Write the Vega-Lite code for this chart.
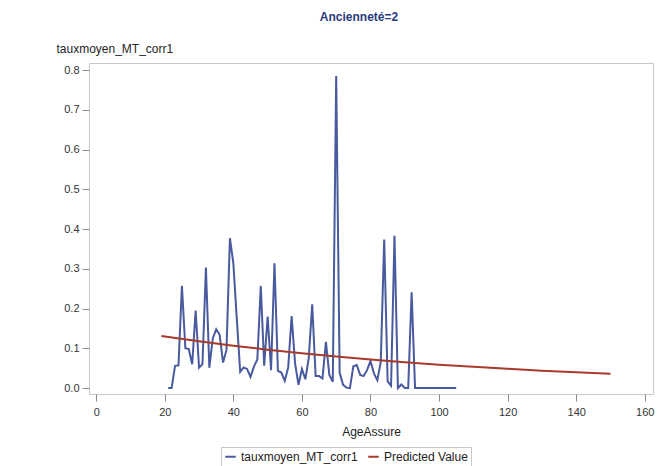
{
  "$schema": "https://vega.github.io/schema/vega-lite/v6.json",
  "width": 564,
  "height": 331,
  "autosize": {"type": "none"},
  "padding": {"left": 89, "top": 63, "right": 12, "bottom": 72},
  "background": "white",
  "config": {
    "font": "Liberation Sans",
    "view": {"stroke": "#c8c8c8", "strokeWidth": 1}
  },
  "title": {
    "text": "Ancienneté=2",
    "fontSize": 12,
    "fontWeight": "bold",
    "color": "#2b3a7e",
    "anchor": "middle",
    "dx": -12,
    "offset": 18
  },
  "data": {
    "values": [
      {"age": 21, "value": 0.0, "series": "tauxmoyen_MT_corr1"},
      {"age": 22, "value": 0.0, "series": "tauxmoyen_MT_corr1"},
      {"age": 23, "value": 0.056, "series": "tauxmoyen_MT_corr1"},
      {"age": 24, "value": 0.057, "series": "tauxmoyen_MT_corr1"},
      {"age": 25, "value": 0.257, "series": "tauxmoyen_MT_corr1"},
      {"age": 26, "value": 0.1, "series": "tauxmoyen_MT_corr1"},
      {"age": 27, "value": 0.098, "series": "tauxmoyen_MT_corr1"},
      {"age": 28, "value": 0.06, "series": "tauxmoyen_MT_corr1"},
      {"age": 29, "value": 0.195, "series": "tauxmoyen_MT_corr1"},
      {"age": 30, "value": 0.051, "series": "tauxmoyen_MT_corr1"},
      {"age": 31, "value": 0.06, "series": "tauxmoyen_MT_corr1"},
      {"age": 32, "value": 0.303, "series": "tauxmoyen_MT_corr1"},
      {"age": 33, "value": 0.051, "series": "tauxmoyen_MT_corr1"},
      {"age": 34, "value": 0.125, "series": "tauxmoyen_MT_corr1"},
      {"age": 35, "value": 0.148, "series": "tauxmoyen_MT_corr1"},
      {"age": 36, "value": 0.134, "series": "tauxmoyen_MT_corr1"},
      {"age": 37, "value": 0.064, "series": "tauxmoyen_MT_corr1"},
      {"age": 38, "value": 0.096, "series": "tauxmoyen_MT_corr1"},
      {"age": 39, "value": 0.377, "series": "tauxmoyen_MT_corr1"},
      {"age": 40, "value": 0.314, "series": "tauxmoyen_MT_corr1"},
      {"age": 41, "value": 0.175, "series": "tauxmoyen_MT_corr1"},
      {"age": 42, "value": 0.041, "series": "tauxmoyen_MT_corr1"},
      {"age": 43, "value": 0.052, "series": "tauxmoyen_MT_corr1"},
      {"age": 44, "value": 0.048, "series": "tauxmoyen_MT_corr1"},
      {"age": 45, "value": 0.028, "series": "tauxmoyen_MT_corr1"},
      {"age": 46, "value": 0.054, "series": "tauxmoyen_MT_corr1"},
      {"age": 47, "value": 0.072, "series": "tauxmoyen_MT_corr1"},
      {"age": 48, "value": 0.257, "series": "tauxmoyen_MT_corr1"},
      {"age": 49, "value": 0.056, "series": "tauxmoyen_MT_corr1"},
      {"age": 50, "value": 0.18, "series": "tauxmoyen_MT_corr1"},
      {"age": 51, "value": 0.045, "series": "tauxmoyen_MT_corr1"},
      {"age": 52, "value": 0.314, "series": "tauxmoyen_MT_corr1"},
      {"age": 53, "value": 0.043, "series": "tauxmoyen_MT_corr1"},
      {"age": 54, "value": 0.039, "series": "tauxmoyen_MT_corr1"},
      {"age": 55, "value": 0.018, "series": "tauxmoyen_MT_corr1"},
      {"age": 56, "value": 0.052, "series": "tauxmoyen_MT_corr1"},
      {"age": 57, "value": 0.181, "series": "tauxmoyen_MT_corr1"},
      {"age": 58, "value": 0.062, "series": "tauxmoyen_MT_corr1"},
      {"age": 59, "value": 0.008, "series": "tauxmoyen_MT_corr1"},
      {"age": 60, "value": 0.048, "series": "tauxmoyen_MT_corr1"},
      {"age": 61, "value": 0.022, "series": "tauxmoyen_MT_corr1"},
      {"age": 62, "value": 0.076, "series": "tauxmoyen_MT_corr1"},
      {"age": 63, "value": 0.211, "series": "tauxmoyen_MT_corr1"},
      {"age": 64, "value": 0.03, "series": "tauxmoyen_MT_corr1"},
      {"age": 65, "value": 0.03, "series": "tauxmoyen_MT_corr1"},
      {"age": 66, "value": 0.024, "series": "tauxmoyen_MT_corr1"},
      {"age": 67, "value": 0.116, "series": "tauxmoyen_MT_corr1"},
      {"age": 68, "value": 0.033, "series": "tauxmoyen_MT_corr1"},
      {"age": 69, "value": 0.016, "series": "tauxmoyen_MT_corr1"},
      {"age": 70, "value": 0.785, "series": "tauxmoyen_MT_corr1"},
      {"age": 71, "value": 0.039, "series": "tauxmoyen_MT_corr1"},
      {"age": 72, "value": 0.008, "series": "tauxmoyen_MT_corr1"},
      {"age": 73, "value": 0.001, "series": "tauxmoyen_MT_corr1"},
      {"age": 74, "value": 0.0, "series": "tauxmoyen_MT_corr1"},
      {"age": 75, "value": 0.055, "series": "tauxmoyen_MT_corr1"},
      {"age": 76, "value": 0.058, "series": "tauxmoyen_MT_corr1"},
      {"age": 77, "value": 0.033, "series": "tauxmoyen_MT_corr1"},
      {"age": 78, "value": 0.03, "series": "tauxmoyen_MT_corr1"},
      {"age": 79, "value": 0.045, "series": "tauxmoyen_MT_corr1"},
      {"age": 80, "value": 0.068, "series": "tauxmoyen_MT_corr1"},
      {"age": 81, "value": 0.037, "series": "tauxmoyen_MT_corr1"},
      {"age": 82, "value": 0.02, "series": "tauxmoyen_MT_corr1"},
      {"age": 83, "value": 0.066, "series": "tauxmoyen_MT_corr1"},
      {"age": 84, "value": 0.374, "series": "tauxmoyen_MT_corr1"},
      {"age": 85, "value": 0.017, "series": "tauxmoyen_MT_corr1"},
      {"age": 86, "value": 0.006, "series": "tauxmoyen_MT_corr1"},
      {"age": 87, "value": 0.383, "series": "tauxmoyen_MT_corr1"},
      {"age": 88, "value": 0.0, "series": "tauxmoyen_MT_corr1"},
      {"age": 89, "value": 0.009, "series": "tauxmoyen_MT_corr1"},
      {"age": 90, "value": 0.0, "series": "tauxmoyen_MT_corr1"},
      {"age": 91, "value": 0.0, "series": "tauxmoyen_MT_corr1"},
      {"age": 92, "value": 0.241, "series": "tauxmoyen_MT_corr1"},
      {"age": 93, "value": 0.0, "series": "tauxmoyen_MT_corr1"},
      {"age": 94, "value": 0.0, "series": "tauxmoyen_MT_corr1"},
      {"age": 95, "value": 0.0, "series": "tauxmoyen_MT_corr1"},
      {"age": 96, "value": 0.0, "series": "tauxmoyen_MT_corr1"},
      {"age": 97, "value": 0.0, "series": "tauxmoyen_MT_corr1"},
      {"age": 98, "value": 0.0, "series": "tauxmoyen_MT_corr1"},
      {"age": 99, "value": 0.0, "series": "tauxmoyen_MT_corr1"},
      {"age": 100, "value": 0.0, "series": "tauxmoyen_MT_corr1"},
      {"age": 101, "value": 0.0, "series": "tauxmoyen_MT_corr1"},
      {"age": 102, "value": 0.0, "series": "tauxmoyen_MT_corr1"},
      {"age": 103, "value": 0.0, "series": "tauxmoyen_MT_corr1"},
      {"age": 104, "value": 0.0, "series": "tauxmoyen_MT_corr1"},
      {"age": 105, "value": 0.0, "series": "tauxmoyen_MT_corr1"},
      {"age": 19, "value": 0.131, "series": "Predicted Value"},
      {"age": 30, "value": 0.1175, "series": "Predicted Value"},
      {"age": 40, "value": 0.1065, "series": "Predicted Value"},
      {"age": 50, "value": 0.0965, "series": "Predicted Value"},
      {"age": 60, "value": 0.0874, "series": "Predicted Value"},
      {"age": 70, "value": 0.0792, "series": "Predicted Value"},
      {"age": 80, "value": 0.0717, "series": "Predicted Value"},
      {"age": 90, "value": 0.065, "series": "Predicted Value"},
      {"age": 100, "value": 0.0589, "series": "Predicted Value"},
      {"age": 110, "value": 0.0534, "series": "Predicted Value"},
      {"age": 120, "value": 0.0483, "series": "Predicted Value"},
      {"age": 130, "value": 0.0438, "series": "Predicted Value"},
      {"age": 140, "value": 0.0397, "series": "Predicted Value"},
      {"age": 150, "value": 0.036, "series": "Predicted Value"}
    ]
  },
  "mark": {"type": "line", "strokeWidth": 2, "interpolate": "linear"},
  "encoding": {
    "x": {
      "field": "age",
      "type": "quantitative",
      "scale": {"domain": [-2.1, 162.4], "nice": false, "zero": false},
      "axis": {
        "values": [0, 20, 40, 60, 80, 100, 120, 140, 160],
        "grid": false,
        "domain": false,
        "tickSize": 7,
        "tickColor": "#8c8c8c",
        "labelFontSize": 11,
        "labelColor": "#333333",
        "labelPadding": 5,
        "title": "AgeAssure",
        "titleFontSize": 12,
        "titleFontWeight": "normal",
        "titleColor": "#222222",
        "titlePadding": 9
      }
    },
    "y": {
      "field": "value",
      "type": "quantitative",
      "scale": {"domain": [-0.015, 0.818], "nice": false, "zero": false},
      "axis": {
        "values": [0, 0.1, 0.2, 0.3, 0.4, 0.5, 0.6, 0.7, 0.8],
        "format": ".1f",
        "grid": false,
        "domain": false,
        "tickSize": 7,
        "tickColor": "#8c8c8c",
        "labelFontSize": 11,
        "labelColor": "#333333",
        "labelPadding": 3,
        "title": "tauxmoyen_MT_corr1",
        "titleAngle": 0,
        "titleAlign": "left",
        "titleBaseline": "alphabetic",
        "titleX": -33,
        "titleY": -11,
        "titleFontSize": 12,
        "titleFontWeight": "normal",
        "titleColor": "#222222"
      }
    },
    "color": {
      "field": "series",
      "type": "nominal",
      "sort": ["tauxmoyen_MT_corr1", "Predicted Value"],
      "scale": {"domain": ["tauxmoyen_MT_corr1", "Predicted Value"], "range": ["#4a5a9e", "#a83a2c"]},
      "legend": {
        "title": null,
        "orient": "none",
        "legendX": 132,
        "legendY": 384,
        "direction": "horizontal",
        "strokeColor": "#c8c8c8",
        "padding": 3,
        "symbolType": "stroke",
        "symbolStrokeWidth": 2,
        "symbolSize": 110,
        "labelFontSize": 12,
        "labelColor": "#222222",
        "columnPadding": 6
      }
    }
  }
}
